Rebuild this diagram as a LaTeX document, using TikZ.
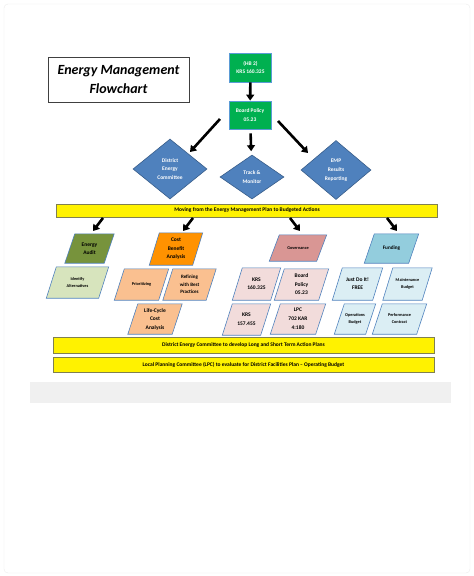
\documentclass[tikz,border=0pt]{standalone}
\usepackage{fontspec}
\setmainfont{Carlito}
\usetikzlibrary{shapes.geometric,arrows.meta}
\pgfdeclarelayer{background}
\pgfsetlayers{background,main}

\definecolor{offgreen}{HTML}{00B050}
\definecolor{greenline}{HTML}{5B9BD5}
\definecolor{dfill}{HTML}{4F81BD}
\definecolor{dline}{HTML}{385D8A}
\definecolor{barline}{HTML}{808050}
\definecolor{pline}{HTML}{4F81BD}
\definecolor{auditfill}{HTML}{77933C}
\definecolor{altfill}{HTML}{D7E4BD}
\definecolor{costfill}{HTML}{FF9200}
\definecolor{lorange}{HTML}{FAC090}
\definecolor{govfill}{HTML}{D99694}
\definecolor{lpink}{HTML}{F2DCDB}
\definecolor{fundfill}{HTML}{93CDDD}
\definecolor{lblue}{HTML}{DBEEF4}

\begin{document}
\begin{tikzpicture}[x=1pt,y=1pt]
\tikzstyle{every node}+=[inner sep=0pt, align=center]
\tikzstyle{txt}=[font=\bfseries\fontsize{5.5}{8.5}\selectfont]
\tikzstyle{tiny}=[font=\bfseries\fontsize{4.3}{7}\selectfont]
\tikzstyle{greenbox}=[txt, draw=greenline, fill=offgreen, text=white, line width=0.8pt, minimum width=42pt, minimum height=28pt]
\tikzstyle{bluediamond}=[txt, diamond, draw=dline, fill=dfill, text=white, line width=0.6pt]
\tikzstyle{para}=[txt, minimum height=30pt]
\tikzstyle{bar}=[txt, draw=barline, fill=yellow, line width=0.9pt, minimum width=381pt]
\tikzstyle{fat}=[line width=2.6pt, -{Triangle[width=8pt,length=6pt]}]
\useasboundingbox (0,0) rectangle (474,-576);
\draw [black!8, rounded corners=4pt] (4,-4) rectangle (470,-573);
\fill [black!6] (30,-382) rectangle (451,-403);
% title
\node [draw=black!75, line width=0.8pt, minimum width=141pt, minimum height=45pt, font=\bfseries\itshape\fontsize{14}{19}\selectfont] (title) at (118.5,-79.5) {Energy Management\\Flowchart};
% top of the chart
\node [greenbox, minimum height=29pt] (hb) at (250.5,-67.5) {(HB 2)\\KRS 160.325};
\node [greenbox] (bp) at (250,-115) {Board Policy\\05.23};
\node [bluediamond, minimum width=74pt, minimum height=60pt] (dec) at (170,-169) {District\\Energy\\Committee};
\node [bluediamond, minimum width=64pt, minimum height=44pt, font=\bfseries\fontsize{5.5}{9}\selectfont] (tm) at (252,-177) {Track \&\\Monitor};
\node [bluediamond, minimum width=70pt, minimum height=59pt, font=\bfseries\fontsize{5.5}{9}\selectfont] (emp) at (336,-170) {EMP\\Results\\Reporting};
\draw [fat] (hb) -- (bp);
\draw [fat, shorten <=4pt, shorten >=4pt] (bp) -- (tm);
\coordinate (bpL) at (220,-119);
\coordinate (decR) at (190,-152);
\coordinate (bpR) at (278,-121);
\coordinate (empL) at (308,-153);
\draw [fat] (bpL) -- (decR);
\draw [fat] (bpR) -- (empL);
\node [bar, minimum height=13pt] (barA) at (247,-210.5) {Moving from the Energy Management Plan to Budgeted Actions};
% second row
\node [para, minimum width=39pt, minimum height=29pt] (ea) at (89.5,-248.5) {Energy\\Audit};
\node [para, minimum width=43pt, minimum height=32pt] (cba) at (176,-249) {Cost\\Benefit\\Analysis};
\node [para, minimum width=47pt, minimum height=26pt, tiny] (gov) at (298,-248) {Governance};
\node [para, minimum width=44pt, minimum height=29pt, font=\bfseries\fontsize{5.2}{8}\selectfont] (fund) at (391.5,-248.5) {Funding};
\coordinate (barA1) at (103,-218);
\coordinate (ea1) at (93,-231);
\coordinate (barA2) at (193,-218);
\coordinate (cba1) at (183,-231);
\coordinate (barA3) at (290,-218);
\coordinate (gov1) at (300,-231);
\coordinate (barA4) at (387,-218);
\coordinate (fund1) at (397,-231);
\draw [fat] (barA1) -- (ea1);
\draw [fat] (barA2) -- (cba1);
\draw [fat] (barA3) -- (gov1);
\draw [fat] (barA4) -- (fund1);
% third and fourth rows
\node [para, minimum width=52pt, minimum height=31pt, tiny] (ia) at (77.5,-282.5) {Identify\\Alternatives};
\node [para, minimum width=44pt, minimum height=31pt, tiny] (prio) at (141.5,-284.5) {Prioritizing};
\node [para, minimum width=43pt, minimum height=31pt, font=\bfseries\fontsize{5}{7.5}\selectfont] (refine) at (189.5,-284.5) {Refining\\with Best\\Practices};
\node [para, minimum width=44pt, minimum height=30pt] (lcc) at (155,-319) {Life-Cycle\\Cost\\Analysis};
\node [para, minimum width=38pt, minimum height=32pt, font=\bfseries\fontsize{5.5}{8}\selectfont] (krsA) at (256.5,-284) {KRS\\160.325};
\node [para, minimum width=44pt, minimum height=31pt] (bpol) at (301.5,-284.5) {Board\\Policy\\05.23};
\node [para, minimum width=38pt, minimum height=31pt, font=\bfseries\fontsize{5.5}{9}\selectfont] (krsB) at (246.5,-319.5) {KRS\\157.455};
\node [para, minimum width=45pt, minimum height=30pt, font=\bfseries\fontsize{5.5}{9}\selectfont] (lpc) at (298,-319) {LPC\\702 KAR\\4:180};
\node [para, minimum width=40pt, minimum height=32pt, font=\bfseries\fontsize{5.5}{8}\selectfont] (jdi) at (357.5,-284) {Just Do It!\\FREE};
\node [para, minimum width=39pt, minimum height=32pt, tiny] (maint) at (407.5,-284) {Maintenance\\Budget};
\node [para, minimum width=31pt, minimum height=30pt, tiny] (ops) at (355,-319) {Operations\\Budget};
\node [para, minimum width=44pt, minimum height=30pt, tiny] (perf) at (399.5,-319) {Performance\\Contract};
% the slanted boxes behind the texts
\begin{pgfonlayer}{background}
\foreach \n/\c in {ea/auditfill, cba/costfill, gov/govfill, fund/fundfill, ia/altfill, prio/lorange, refine/lorange, lcc/lorange, krsA/lpink, bpol/lpink, krsB/lpink, lpc/lpink, jdi/lblue, maint/lblue, ops/lblue, perf/lblue}
  \draw [pline, line width=0.6pt, fill=\c] ([xshift=5pt]\n.north west) -- ([xshift=5pt]\n.north east) -- ([xshift=-5pt]\n.south east) -- ([xshift=-5pt]\n.south west) -- cycle;
\end{pgfonlayer}
% bottom bars
\node [bar, minimum height=16pt] (barB) at (243.5,-345) {District Energy Committee to develop Long and Short Term Action Plans};
\node [bar, minimum height=15pt] (barC) at (243.5,-364.5) {Local Planning Committee (LPC) to evaluate for District Facilities Plan -- Operating Budget};
\end{tikzpicture}
\end{document}
